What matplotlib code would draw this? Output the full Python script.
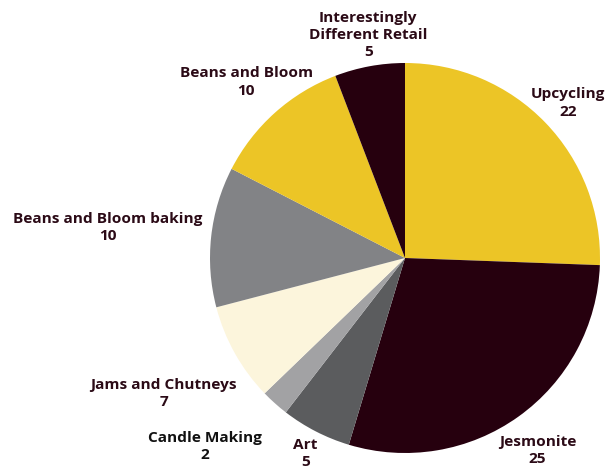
import matplotlib
matplotlib.use("Agg")
import matplotlib.pyplot as plt
import numpy as np

labels = ["Upcycling", "Jesmonite", "Art", "Candle Making", "Jams and Chutneys",
          "Beans and Bloom baking", "Beans and Bloom", "Interestingly\nDifferent Retail"]
values = [22, 25, 5, 2, 7, 10, 10, 5]
colors = ["#ECC526", "#26000E", "#5B5C5E", "#A2A2A4", "#FCF5DC",
          "#828386", "#ECC526", "#26000E"]
label_dist = [1.154, 1.198, 1.125, 1.411, 1.419, 1.531, 1.216, 1.159]
label_ang_off = [-0.4, -1.0, 0.2, -4.8, 0.0, 0.4, 0.2, -1.1]
text_colors = ["#2B0A16", "#2B0A16", "#2B0A16", "#111111", "#2B0A16",
               "#2B0A16", "#2B0A16", "#2B0A16"]

plt.rcParams['font.family'] = ['Open Sans', 'DejaVu Sans']

W, H = 614, 471
cx, cy, R = 405, 258, 195
fig = plt.figure(figsize=(W / 100, H / 100), dpi=100)
ax = fig.add_axes([0, 0, 1, 1])
ax.axis("off")

wedges, _ = ax.pie(values, colors=colors, startangle=90, counterclock=False,
                   radius=1.0, wedgeprops=dict(linewidth=0))
ax.set_xlim(-cx / R, (W - cx) / R)
ax.set_ylim(-(H - cy) / R, cy / R)

for w, lab, v, d, off, tc in zip(wedges, labels, values, label_dist, label_ang_off, text_colors):
    ang = np.deg2rad((w.theta1 + w.theta2) / 2 + off)
    x, y = d * np.cos(ang), d * np.sin(ang)
    ax.text(x, y, f"{lab}\n{v}", ha="center", va="center", fontsize=11.1,
            fontweight="bold", color=tc, linespacing=1.3)

fig.savefig("out.png", dpi=100)
